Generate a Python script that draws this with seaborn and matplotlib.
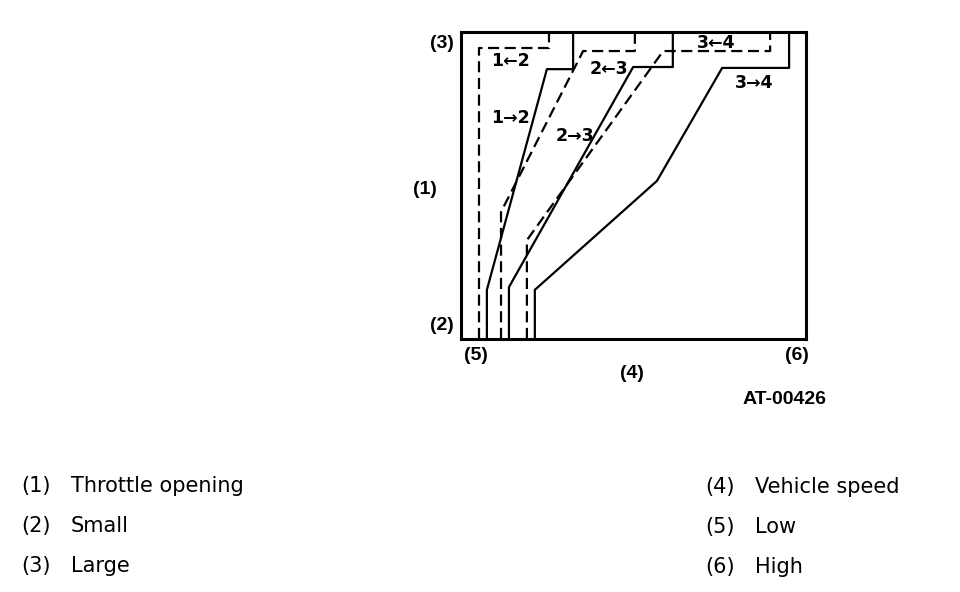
import matplotlib
matplotlib.use("Agg")
import matplotlib.pyplot as plt
import seaborn as sns
import pandas as pd

sns.set_style("white")
plt.rcParams['font.family'] = ['Liberation Sans', 'DejaVu Sans']
plt.rcParams['text.color'] = 'black'

# Shift curves: vehicle speed (0-100, low->high) vs throttle opening (0-100, small->large)
up12_speed = [7.5, 7.5, 24.9, 32.5, 32.5]
up12_throttle = [0, 16.0, 87.9, 87.9, 100]
up23_speed = [13.9, 13.9, 49.9, 61.4, 61.4]
up23_throttle = [0, 16.9, 88.6, 88.6, 100]
up34_speed = [21.4, 21.4, 56.8, 75.7, 95.1, 95.1]
up34_throttle = [0, 16.0, 51.5, 88.3, 88.3, 100]
down21_speed = [5.2, 5.2, 25.5, 25.5]
down21_throttle = [0, 94.8, 94.8, 100]
down32_speed = [11.6, 11.6, 35.4, 50.4, 50.4]
down32_throttle = [0, 41.4, 93.8, 93.8, 100]
down43_speed = [19.1, 19.1, 58.6, 89.6, 89.6]
down43_throttle = [0, 32.2, 93.8, 93.8, 100]

curve_labels = ["1\u21922", "2\u21923", "3\u21924", "1\u21902", "2\u21903", "3\u21904"]
curve_label_pos = [(14.2, 72), (33, 66), (85, 83.5), (14.2, 90.5), (43, 88), (74, 96.5)]

legend_left = [("(1)", "Throttle opening"), ("(2)", "Small"), ("(3)", "Large")]
legend_right = [("(4)", "Vehicle speed"), ("(5)", "Low"), ("(6)", "High")]

W, H = 960, 592
fig = plt.figure(figsize=(9.6, 5.92), dpi=100)
ax = fig.add_axes([461 / W, 1 - 339 / H, (806 - 461) / W, (339 - 32) / H])

series = [
    (up12_speed, up12_throttle, "solid"),
    (up23_speed, up23_throttle, "solid"),
    (up34_speed, up34_throttle, "solid"),
    (down21_speed, down21_throttle, "dashed"),
    (down32_speed, down32_throttle, "dashed"),
    (down43_speed, down43_throttle, "dashed"),
]
for i, (xs, ys, style) in enumerate(series):
    df = pd.DataFrame({"speed": xs, "throttle": ys})
    kw = dict(color="black", linewidth=1.6, sort=False, estimator=None, ax=ax)
    sns.lineplot(data=df, x="speed", y="throttle", **kw)
    if style == "dashed":
        ax.lines[-1].set_dashes((5, 2.5))

ax.set_xlim(0, 100)
ax.set_ylim(0, 100)
ax.set_xticks([])
ax.set_yticks([])
ax.set_xlabel("")
ax.set_ylabel("")
for s in ax.spines.values():
    s.set_linewidth(2.2)
    s.set_color("black")

for lab, (x, y) in zip(curve_labels, curve_label_pos):
    ax.text(x, y, lab, ha="center", va="center", fontsize=12.5, fontweight="bold",
            family=["DejaVu Sans"], color="black")

def ft(px, py, s, **kw):
    fig.text(px / W, 1 - py / H, s, color="black", **kw)

bold = dict(fontsize=14, fontweight="bold", va="center")
ft(442, 43, "(3)", ha="center", **bold)
ft(425, 190, "(1)", ha="center", **bold)
ft(442, 326, "(2)", ha="center", **bold)
ft(476, 356, "(5)", ha="center", **bold)
ft(632, 374, "(4)", ha="center", **bold)
ft(797, 355, "(6)", ha="center", **bold)
ft(785, 400, "AT-00426", ha="center", **bold)

reg = dict(fontsize=15, va="center", family=["DejaVu Sans"])
for i, (n, t) in enumerate(legend_left):
    y = 486 + i * 40
    ft(21, y, n, ha="left", **reg)
    ft(71, y, t, ha="left", **reg)
for i, (n, t) in enumerate(legend_right):
    y = 487 + i * 40
    ft(705, y, n, ha="left", **reg)
    ft(755, y, t, ha="left", **reg)

fig.savefig("out.png", dpi=100)
